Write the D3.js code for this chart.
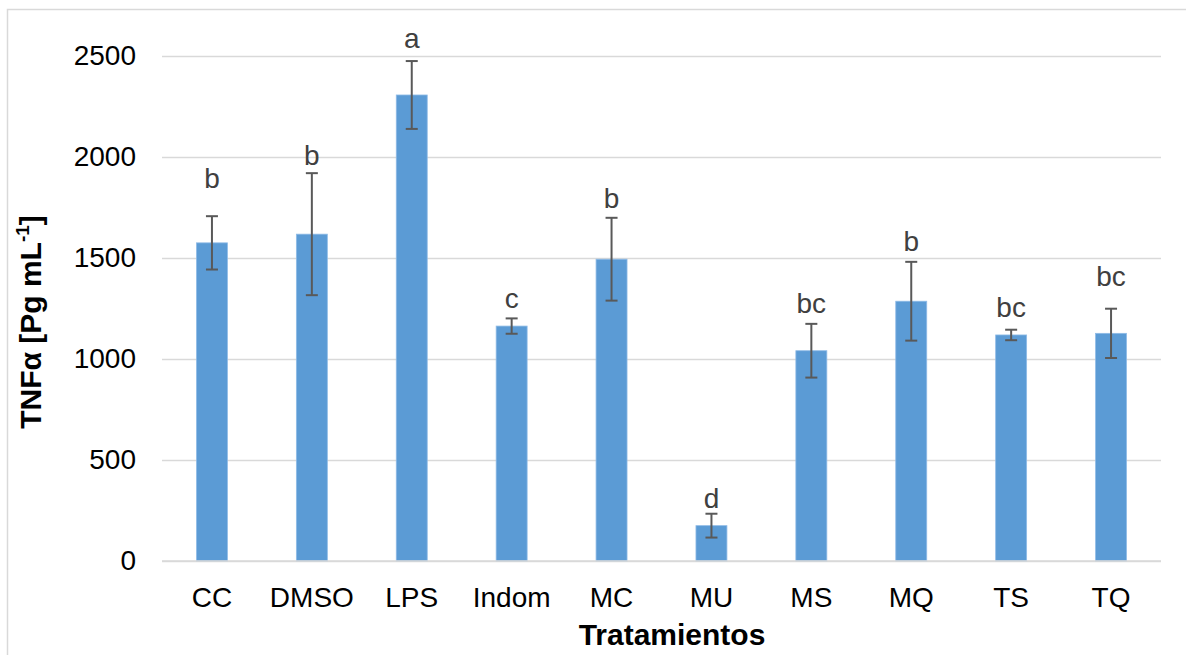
<!DOCTYPE html>
<html>
<head>
<meta charset="utf-8">
<script src="https://cdn.jsdelivr.net/npm/d3@7"></script>
<style>
  body { margin: 0; background: #fff; }
  svg { display: block; font-family: "Liberation Sans", Arial, sans-serif; }
</style>
</head>
<body>
<svg id="graph" width="1186" height="655"></svg>
<script>
const categories = ['CC', 'DMSO', 'LPS', 'Indom', 'MC', 'MU', 'MS', 'MQ', 'TS', 'TQ'];
const means = [1575, 1618, 2307, 1163, 1494, 175, 1041, 1286, 1119, 1127];
const errors = [132, 302, 168, 38, 205, 59, 133, 195, 26, 122];
const letters = ['b', 'b', 'a', 'c', 'b', 'd', 'bc', 'b', 'bc', 'bc'];
// where each letter sits, in data units
const letterAt = [1847, 1960, 2540, 1252, 1748, 262, 1228, 1535, 1208, 1361];
const yTicks = [0, 500, 1000, 1500, 2000, 2500];

(function() {
const svg = d3.select('#graph');
const x_left = 162, x_right = 1161, y_top = 56, y_bottom = 561;

// chart frame
svg.append('rect')
  .attr('x', 7.5).attr('y', 9.5)
  .attr('width', 1200).attr('height', 700)
  .attr('fill', 'none')
  .attr('stroke', '#d9d9d9')
  .attr('stroke-width', 1.5);

const x = d3.scaleBand()
  .domain(categories)
  .range([x_left, x_right])
  .paddingInner(0.69)
  .paddingOuter(0.345);

const y = d3.scaleLinear()
  .domain([0, 2500])
  .range([y_bottom, y_top]);

// gridlines + y labels
const yAxis = svg.append('g')
  .attr('transform', `translate(${x_left},0)`)
  .call(d3.axisLeft(y)
    .tickValues(yTicks)
    .tickFormat(d3.format('d'))
    .tickSize(-(x_right - x_left))
    .tickPadding(26));
yAxis.select('.domain').remove();
yAxis.selectAll('.tick line')
  .attr('stroke', '#d9d9d9')
  .attr('stroke-width', 1.4);
yAxis.selectAll('.tick text')
  .attr('font-size', 28)
  .attr('fill', '#000')
  .attr('font-family', '"Liberation Sans", Arial, sans-serif');

const data = categories.map((c, i) => ({ c, v: means[i], e: errors[i], l: letters[i], la: letterAt[i] }));

svg.append('g')
  .selectAll('rect')
  .data(data)
  .join('rect')
  .attr('x', d => x(d.c))
  .attr('y', d => y(d.v))
  .attr('width', x.bandwidth())
  .attr('height', d => y(0) - y(d.v))
  .attr('fill', '#5b9bd5')
  .attr('stroke', '#8fbbe6')
  .attr('stroke-width', 0.8);

// x axis line drawn over bars
svg.append('line')
  .attr('x1', x_left).attr('x2', x_right)
  .attr('y1', y(0)).attr('y2', y(0))
  .attr('stroke', '#d9d9d9')
  .attr('stroke-width', 1.6);

// error bars
const eb = svg.append('g')
  .attr('stroke', '#595959')
  .attr('stroke-width', 2);
const cx = d => x(d.c) + x.bandwidth() / 2;
eb.selectAll('.stem')
  .data(data)
  .join('line')
  .attr('class', 'stem')
  .attr('x1', cx).attr('x2', cx)
  .attr('y1', d => y(d.v + d.e))
  .attr('y2', d => y(d.v - d.e));
eb.selectAll('.capTop')
  .data(data)
  .join('line')
  .attr('class', 'capTop')
  .attr('x1', d => cx(d) - 6).attr('x2', d => cx(d) + 6)
  .attr('y1', d => y(d.v + d.e)).attr('y2', d => y(d.v + d.e));
eb.selectAll('.capBot')
  .data(data)
  .join('line')
  .attr('class', 'capBot')
  .attr('x1', d => cx(d) - 6).attr('x2', d => cx(d) + 6)
  .attr('y1', d => y(d.v - d.e)).attr('y2', d => y(d.v - d.e));

// significance letters
svg.append('g')
  .selectAll('text')
  .data(data)
  .join('text')
  .attr('x', cx)
  .attr('y', d => y(d.la))
  .attr('text-anchor', 'middle')
  .attr('font-size', 28)
  .attr('fill', '#404040')
  .text(d => d.l);

// category labels
svg.append('g')
  .selectAll('text')
  .data(categories)
  .join('text')
  .attr('x', d => x(d) + x.bandwidth() / 2)
  .attr('y', 607)
  .attr('text-anchor', 'middle')
  .attr('font-size', 28)
  .attr('fill', '#000')
  .text(d => d);

// axis titles
svg.append('text')
  .attr('x', 672)
  .attr('y', 645)
  .attr('text-anchor', 'middle')
  .attr('font-size', 30)
  .attr('font-weight', 'bold')
  .text('Tratamientos');

const yt = svg.append('text')
  .attr('transform', `translate(41, 322) rotate(-90)`)
  .attr('text-anchor', 'middle')
  .attr('font-size', 30)
  .attr('font-weight', 'bold');
yt.append('tspan').text('TNFα [Pg mL');
yt.append('tspan').attr('font-size', 19).attr('dy', -12).text('-1');
yt.append('tspan').attr('dy', 12).text(']');
})();
</script>
</body>
</html>
